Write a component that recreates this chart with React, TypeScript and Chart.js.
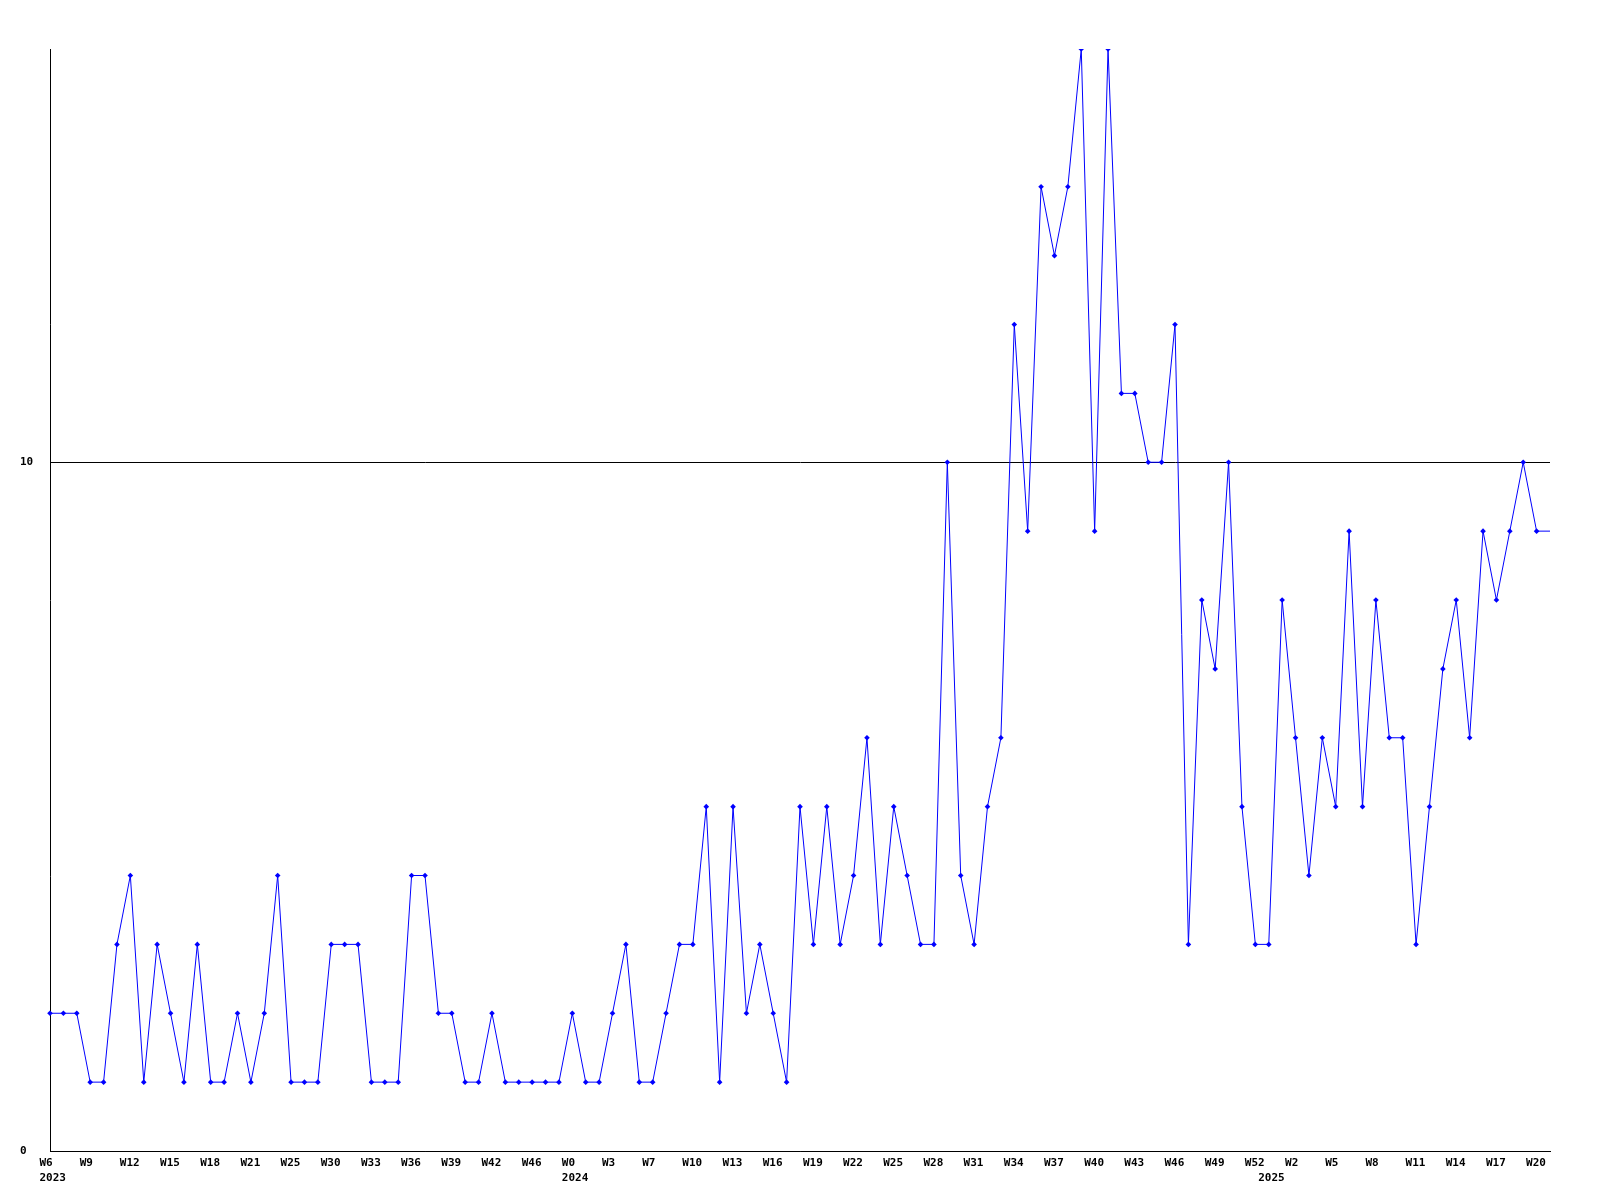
import React, { useEffect, useRef } from "react";
import { Chart, registerables } from "chart.js";

Chart.register(...registerables);

const weeks: string[] = [
  "W6", "W7", "W8", "W9", "W10", "W11", "W12", "W13", "W14", "W15", "W16", "W17",
  "W18", "W19", "W20", "W21", "W22", "W24", "W25", "W26", "W28", "W30", "W31", "W32",
  "W33", "W34", "W35", "W36", "W37", "W38", "W39", "W40", "W41", "W42", "W43", "W45",
  "W46", "W47", "W49",
  "W0", "W1", "W2", "W3", "W4", "W6", "W7", "W8", "W9", "W10", "W11", "W12",
  "W13", "W14", "W15", "W16", "W17", "W18", "W19", "W20", "W21", "W22", "W23", "W24",
  "W25", "W26", "W27", "W28", "W29", "W30", "W31", "W32", "W33", "W34", "W35", "W36",
  "W37", "W38", "W39", "W40", "W41", "W42", "W43", "W44", "W45", "W46", "W47", "W48",
  "W49", "W50", "W51", "W52",
  "W0", "W1", "W2", "W3", "W4", "W5", "W6", "W7", "W8", "W9", "W10", "W11",
  "W12", "W13", "W14", "W15", "W16", "W17", "W18", "W19", "W20", "W21",
];

const yearStartIndex: number[] = [0, 39, 91];
const yearNames: string[] = ["2023", "2024", "2025"];

const counts: number[] = [
  2, 2, 2, 1, 1, 3, 4, 1, 3, 2, 1, 3, 1, 1, 2, 1, 2, 4, 1, 1, 1, 3, 3, 3, 1, 1, 1, 4, 4, 2,
  2, 1, 1, 2, 1, 1, 1, 1, 1, 2, 1, 1, 2, 3, 1, 1, 2, 3, 3, 5, 1, 5, 2, 3, 2, 1, 5, 3, 5, 3,
  4, 6, 3, 5, 4, 3, 3, 10, 4, 3, 5, 6, 12, 9, 14, 13, 14, 16, 9, 16, 11, 11, 10, 10, 12, 3,
  8, 7, 10, 5, 3, 3, 8, 6, 4, 6, 5, 9, 5, 8, 6, 6, 3, 5, 7, 8, 6, 9, 8, 9, 10, 9, 9,
];

const yTickValues: number[] = [0, 10];

const FONT = { family: "'DejaVu Sans Mono', 'Liberation Mono', monospace", size: 11, weight: "bold" as const, lineHeight: 1.4 };

export default function App() {
  const canvasRef = useRef<HTMLCanvasElement | null>(null);

  useEffect(() => {
    const canvas = canvasRef.current;
    if (!canvas) return;
    const last = counts.length - 1;
    const chart = new Chart(canvas, {
      type: "line",
      data: {
        labels: weeks,
        datasets: [
          {
            data: counts,
            borderColor: "#0000ff",
            backgroundColor: "#0000ff",
            borderWidth: 1,
            pointStyle: "rectRot",
            pointRadius: (ctx: any) => (ctx.dataIndex === last ? 0 : 2.8),
            pointBorderWidth: 0,
            pointBackgroundColor: "#0000ff",
            tension: 0,
            fill: false,
          },
        ],
      },
      options: {
        animation: false,
        responsive: false,
        devicePixelRatio: 1,
        layout: { padding: { left: 20, top: 49, right: 50, bottom: 0 } },
        plugins: {
          legend: { display: false },
          tooltip: { enabled: false },
          title: { display: false },
        },
        scales: {
          x: {
            type: "category",
            offset: false,
            grid: { display: false, drawTicks: false },
            border: { display: true, color: "#000000", width: 1 },
            ticks: {
              autoSkip: false,
              maxRotation: 0,
              minRotation: 0,
              align: "start",
              labelOffset: -10.5,
              padding: 4,
              color: "#000000",
              font: FONT,
              callback: (_v: any, index: number) => {
                const w = index % 3 === 0 && index < last ? weeks[index] : "";
                const yi = yearStartIndex.indexOf(index);
                if (yi >= 0) return [w, yearNames[yi]];
                return w;
              },
            },
            afterFit: (scale: any) => {
              scale.height = 49;
            },
          },
          y: {
            min: 0,
            max: 16,
            grid: { display: true, color: "#000000", lineWidth: 1, drawTicks: false },
            border: { display: true, color: "#000000", width: 1 },
            ticks: {
              crossAlign: "far",
              color: "#000000",
              font: FONT,
              padding: 0,
            },
            afterBuildTicks: (scale: any) => {
              scale.ticks = yTickValues.map((v) => ({ value: v }));
            },
            afterFit: (scale: any) => {
              scale.width = 30;
            },
          },
        },
      },
    });
    return () => chart.destroy();
  }, []);

  return (
    <div style={{ position: "fixed", left: 0, top: 0, width: 1600, height: 1200, background: "#ffffff" }}>
      <canvas ref={canvasRef} width={1600} height={1200} style={{ width: 1600, height: 1200, display: "block" }} />
    </div>
  );
}
